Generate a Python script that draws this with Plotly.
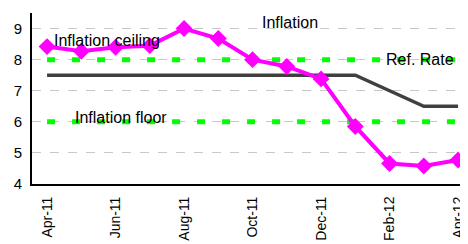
import plotly.graph_objects as go

months = ["Apr-11", "May-11", "Jun-11", "Jul-11", "Aug-11", "Sep-11", "Oct-11",
          "Nov-11", "Dec-11", "Jan-12", "Feb-12", "Mar-12", "Apr-12"]
inflation = [8.42, 8.27, 8.40, 8.45, 9.00, 8.68, 8.00, 7.78, 7.38, 5.85, 4.66, 4.58, 4.77]
ref_rate = [7.5, 7.5, 7.5, 7.5, 7.5, 7.5, 7.5, 7.5, 7.5, 7.5, 7.0, 6.5, 6.5]
ceiling = [8.0] * 13
floor_ = [6.0] * 13
tick_idx = [0, 2, 4, 6, 8, 10, 12]
tick_labels = [months[i] for i in tick_idx]

x = list(range(len(months)))

fig = go.Figure()
fig.add_trace(go.Scatter(x=x, y=ceiling, mode="lines",
                         line=dict(color="#00FF00", width=5, dash="8px,17px")))
fig.add_trace(go.Scatter(x=x, y=floor_, mode="lines",
                         line=dict(color="#00FF00", width=5, dash="8px,17px")))
fig.add_trace(go.Scatter(x=x, y=ref_rate, mode="lines",
                         line=dict(color="#404040", width=3.5)))
fig.add_trace(go.Scatter(x=x, y=inflation, mode="lines+markers",
                         line=dict(color="#FF00FF", width=4),
                         marker=dict(symbol="diamond", size=13, color="#FF00FF")))

font = dict(family="Liberation Sans, Arial, sans-serif", size=16, color="#000000")
annos = [("Inflation ceiling", 1.75, 8.6), ("Inflation", 7.1, 9.2),
         ("Ref. Rate", 10.9, 8.0), ("Inflation floor", 2.16, 6.13)]
for t, ax, ay in annos:
    fig.add_annotation(x=ax, y=ay, text=t, showarrow=False, font=font,
                       xanchor="center", yanchor="middle")

fig.update_layout(
    width=460, height=236,
    margin=dict(l=24, r=0, t=5, b=60, autoexpand=False),
    paper_bgcolor="white", plot_bgcolor="white",
    showlegend=False,
    font=dict(family="Liberation Sans, Arial, sans-serif", color="#000000"),
)
fig.update_xaxes(range=[-0.44, 12.29], tickvals=tick_idx, ticktext=tick_labels,
                 tickangle=-90, showgrid=False, zeroline=False, automargin=False,
                 showline=True, linecolor="black", linewidth=2,
                 tickfont=dict(size=14), ticks="", ticklabelstandoff=5)
fig.update_yaxes(range=[4, 9.5], tickvals=[4, 5, 6, 7, 8, 9], automargin=False,
                 showgrid=True, gridcolor="#C8C8C8", gridwidth=1, griddash="dash",
                 zeroline=False, showline=True, linecolor="black", linewidth=2,
                 tickfont=dict(size=15), ticks="", ticklabelstandoff=5)

fig.write_html("out.html")
